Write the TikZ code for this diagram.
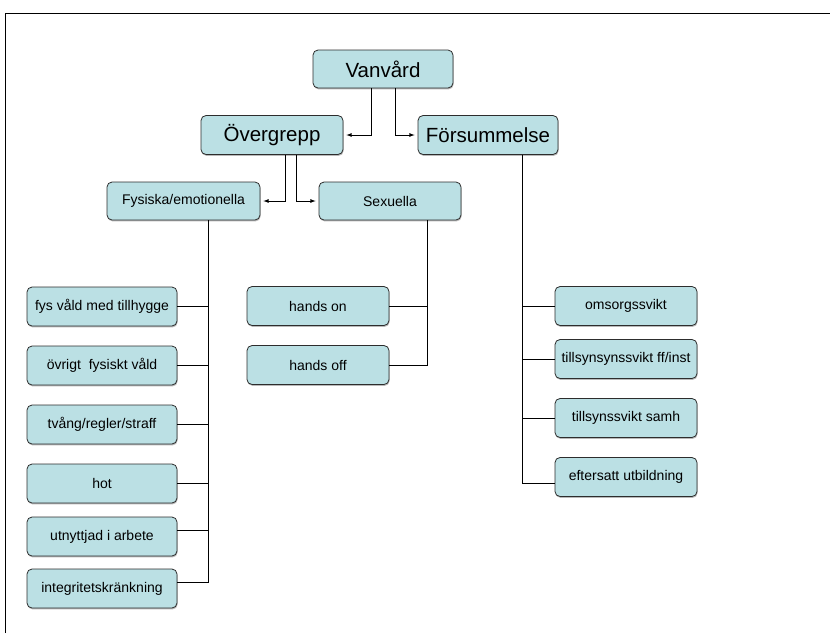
\documentclass[tikz,border=0pt]{standalone}
\usepackage{fontspec}
\setmainfont{Liberation Sans}
\usetikzlibrary{positioning, shadows}
\definecolor{boxfill}{RGB}{187,224,228}
\definecolor{boxline}{RGB}{45,45,45}

\begin{document}
\begin{tikzpicture}[x=1pt, y=-1pt, on grid, >=latex,
    box/.style={draw=boxline, fill=boxfill, rounded corners=5pt, line width=0.8pt,
        drop shadow={shadow xshift=0.6pt, shadow yshift=-1.4pt, fill=black!55},
        minimum width=142pt, minimum height=39pt, inner sep=1pt,
        font=\fontsize{14}{16}\selectfont},
    bigbox/.style={box, font=\fontsize{20.5}{24}\selectfont},
    arr/.style={->, line width=0.8pt, shorten >=3pt},
    line/.style={draw=black, line width=0.8pt}]

        \useasboundingbox (0,0) rectangle (830,633);
        \draw[line width=0.8pt] (5,633) -- (5,13) -- (830,13);

        \node[bigbox, minimum width=140pt, minimum height=38pt] (root) at (383,69) {Vanvård};
        \node[bigbox, below left=66pt and 111pt of root] (over) {Övergrepp};
        \node[bigbox, minimum width=140pt, below right=66pt and 105pt of root] (fors) {Försummelse};
        \node[box, minimum width=153pt, minimum height=38pt, below left=66pt and 88.5pt of over] (fys) {Fysiska/emotionella};
        \node[box, minimum height=38pt, below right=66pt and 118pt of over] (sex) {Sexuella};

        \node[box, minimum width=150pt, below left=105.5pt and 81.5pt of fys] (tillhygge) {fys våld med tillhygge};
        \node[box, minimum width=150pt, below=59pt of tillhygge] (ovrigt) {övrigt~ fysiskt våld};
        \node[box, minimum width=150pt, below=59pt of ovrigt] (tvang) {tvång/regler/straff};
        \node[box, minimum width=150pt, below=59pt of tvang] (hot) {hot};
        \node[box, minimum width=150pt, below=53pt of hot] (utnyttjad) {utnyttjad i arbete};
        \node[box, minimum width=150pt, below=52pt of utnyttjad] (integritet) {integritetskränkning};

        \node[box, below left=105pt and 72pt of sex] (handson) {hands on};
        \node[box, below=59pt of handson] (handsoff) {hands off};

        \node[box, below right=171pt and 138pt of fors] (omsorg) {omsorgssvikt};
        \node[box, below=53pt of omsorg] (tillsynff) {tillsynsynssvikt ff/inst};
        \node[box, below=59pt of tillsynff] (tillsynsamh) {tillsynssvikt samh};
        \node[box, below=59pt of tillsynsamh] (eftersatt) {eftersatt utbildning};

        \draw[arr] ([xshift=-12pt]root.south) |- (over.east);
        \draw[arr] ([xshift=12pt]root.south) |- (fors.west);
        \draw[arr] ([xshift=13pt]over.south) |- (fys.east);
        \draw[arr] ([xshift=24pt]over.south) |- (sex.west);

        \foreach \n/\dy in {tillhygge/0, ovrigt/0, tvang/0, hot/0, utnyttjad/6, integritet/6}
            \draw[line] ([xshift=24.5pt]fys.south) |- ([yshift=\dy pt]\n.east);
        \foreach \n in {handson, handsoff}
            \draw[line] ([xshift=37pt]sex.south) |- (\n.east);
        \foreach \n/\dy in {omsorg/0, tillsynff/0, tillsynsamh/0, eftersatt/-6}
            \draw[line] ([xshift=34pt]fors.south) |- ([yshift=\dy pt]\n.west);
        \end{tikzpicture}
\end{document}
